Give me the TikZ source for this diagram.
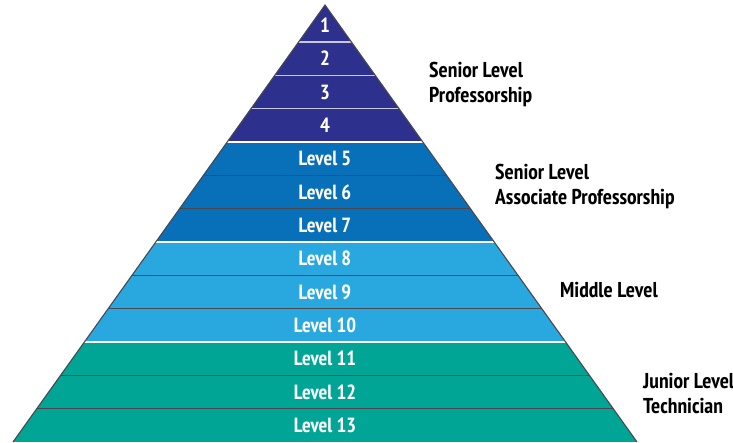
\documentclass[tikz,border=0pt]{standalone}
\usepackage{fontspec}
\setmainfont{PT Sans Narrow}
\usepackage{tikz}
\usetikzlibrary{positioning}

\definecolor{tierA}{RGB}{45,48,140}
\definecolor{tierB}{RGB}{8,112,184}
\definecolor{tierC}{RGB}{41,168,224}
\definecolor{tierD}{RGB}{0,165,150}
\definecolor{rim}{RGB}{72,72,78}
\definecolor{seplight}{RGB}{200,200,225}

\tikzset{
	band/.style={white, inner sep=0pt, font=\bfseries\fontsize{20.5}{20}\selectfont},
	tier/.style={black, align=left, anchor=base west, inner sep=0pt, font=\bfseries\fontsize{21.5}{25}\selectfont},
	sep/.style={rim, line width=1.4pt},
	gap/.style={white, line width=1.6pt}
}

\begin{document}
\begin{tikzpicture}[x=1pt,y=1pt]
	\useasboundingbox (0,0) rectangle (733,442);
	\coordinate (apex) at (325,437);
	\coordinate (baseL) at (13,0);
	\coordinate (baseR) at (637,0);

	\begin{scope}
		\clip (apex) -- (baseL) -- (baseR) -- cycle;
		% colour groups, bottom to top
		\fill[tierD] (0,0) rectangle (733,100);
		\fill[tierC] (0,100) rectangle (733,200);
		\fill[tierB] (0,200) rectangle (733,300);
		\fill[tierA] (0,300) rectangle (733,442);
		% lines between levels
		\foreach \y in {400,366.67,333.33}
			\draw[seplight, line width=1.4pt] (0,\y) -- (733,\y);
		\foreach \y in {266.67,233.33,166.67,133.33,66.67,33.33}
			\draw[sep] (0,\y) -- (733,\y);
		\foreach \y in {300,200,100}
			\draw[gap] (0,\y) -- (733,\y);
	\end{scope}
	\draw[rim, line width=1.1pt, line join=miter] (baseL) -- (apex) -- (baseR);

	% level numbers
	\foreach \lab [count=\k] in {1,2,3,4,Level 5,Level 6,Level 7,Level 8,Level 9,Level 10,Level 11,Level 12,Level 13}
		\node[band] (lvl\k) at (325,{400-(\k-1.5)*400/12}) {\lab};

	% group names (base = last line)
	\node[tier] (prof) at (429,339) {Senior Level\\Professorship};
	\node[tier] (assoc) at (495,237) {Senior Level\\Associate Professorship};
	\node[tier] (mid) at (560,144) {Middle Level};
	\node[tier] (junior) at (643,29) {Junior Level\\Technician};
\end{tikzpicture}
\end{document}
